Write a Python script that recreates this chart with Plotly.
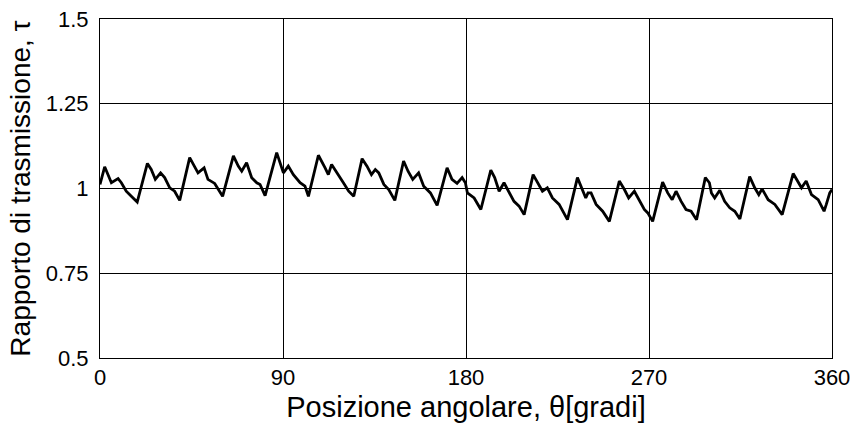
import plotly.graph_objects as go

theta = [0, 2.3, 5.6, 8.9, 10.5, 12.9, 15.4, 18.3, 23.3, 25.2, 27.2, 29.8, 31.8, 34.3, 36.7, 39.2,
         44.1, 46.6, 48.2, 51.2, 53.1, 56.4, 59.7, 60.3, 65.6, 68, 69.7, 72.1, 74.6, 77.1, 78.7,
         81.2, 86.9, 88.5, 90.2, 92.6, 95.1, 98.4, 100.8, 102.5, 107.4, 110.7, 112.3, 113.9, 116.4,
         119.7, 122.3, 124.8, 128.9, 131.3, 133.5, 135.4, 137.1, 139.6, 142, 145, 149.3, 151.5,
         153.8, 156.7, 159.2, 162.5, 165.8, 170.7, 173.1, 175.6, 178.1, 179.7, 180.7, 184, 187.3,
         192.2, 194.1, 196.3, 198.7, 201.2, 203.6, 206.1, 208.6, 213, 215.1, 217.6, 220, 222.5,
         225.8, 229.9, 234.8, 237.2, 238.9, 240, 241.5, 244, 247.2, 250.5, 255.4, 257.9, 260,
         262.8, 265.3, 267.7, 269.4, 271.8, 276.7, 279.2, 281.4, 283.3, 285.8, 288.2, 290.7,
         293.4, 297.7, 299.7, 300.7, 302.3, 304.8, 307.2, 309.7, 312.2, 314.7, 319.5, 322, 324,
         325.6, 328.6, 331.9, 335.5, 340.9, 343.3, 345, 347.3, 349.9, 353.2, 356.1, 357.2, 358.9,
         360]
tau = [1.012, 1.064, 1.017, 1.029, 1.017, 0.992, 0.977, 0.960, 1.074, 1.056, 1.027, 1.046, 1.032,
       1.002, 0.992, 0.965, 1.091, 1.061, 1.046, 1.061, 1.027, 1.015, 0.982, 0.977, 1.096, 1.066,
       1.051, 1.076, 1.032, 1.017, 1.012, 0.979, 1.106, 1.076, 1.046, 1.066, 1.041, 1.017, 1.007,
       0.977, 1.098, 1.061, 1.041, 1.071, 1.046, 1.017, 0.992, 0.977, 1.088, 1.066, 1.041, 1.056,
       1.046, 1.012, 0.997, 0.965, 1.081, 1.051, 1.027, 1.046, 1.007, 0.987, 0.950, 1.061, 1.027,
       1.015, 1.032, 1.017, 0.987, 0.972, 0.938, 1.054, 1.032, 0.992, 1.017, 0.987, 0.962, 0.948,
       0.923, 1.041, 1.017, 0.992, 1.002, 0.972, 0.953, 0.908, 1.032, 0.997, 0.972, 0.987, 0.987,
       0.953, 0.933, 0.903, 1.022, 0.997, 0.972, 0.992, 0.962, 0.938, 0.928, 0.903, 1.019, 0.987,
       0.967, 0.992, 0.962, 0.938, 0.933, 0.908, 1.032, 1.017, 0.987, 0.972, 0.995, 0.962, 0.943,
       0.933, 0.910, 1.035, 1.002, 0.982, 0.999, 0.967, 0.953, 0.923, 1.044, 1.017, 1.002, 1.022,
       0.982, 0.967, 0.933, 0.953, 0.987, 0.997]

x_ticks = [0, 90, 180, 270, 360]
y_ticks = [0.5, 0.75, 1, 1.25, 1.5]
y_tick_text = ["0.5", "0.75", "1", "1.25", "1.5"]

fig = go.Figure()
fig.add_trace(go.Scatter(x=theta, y=tau, mode="lines",
                         line=dict(color="black", width=2.8), showlegend=False))

font_family = "Liberation Sans, Arial, sans-serif"
fig.update_layout(
    width=854, height=429,
    margin=dict(l=100, r=22, t=19, b=71),
    paper_bgcolor="white", plot_bgcolor="white",
    font=dict(family=font_family, color="black"),
)
fig.update_xaxes(
    range=[0, 360], tickvals=x_ticks, ticks="", tickfont=dict(size=22),
    showgrid=True, gridcolor="black", gridwidth=1, automargin=False,
    showline=True, linecolor="black", linewidth=1, mirror=True, zeroline=False,
    title=dict(text="Posizione angolare, θ[gradi]", font=dict(size=29), standoff=7),
)
fig.update_yaxes(
    range=[0.5, 1.5], tickvals=y_ticks, ticktext=y_tick_text, ticks="", tickfont=dict(size=22),
    showgrid=True, gridcolor="black", gridwidth=1, automargin=False,
    showline=True, linecolor="black", linewidth=1, mirror=True, zeroline=False,
    ticklabelstandoff=6,
    title=dict(text="Rapporto di trasmissione, τ", font=dict(size=28), standoff=6),
)

fig.write_html("out.html")
